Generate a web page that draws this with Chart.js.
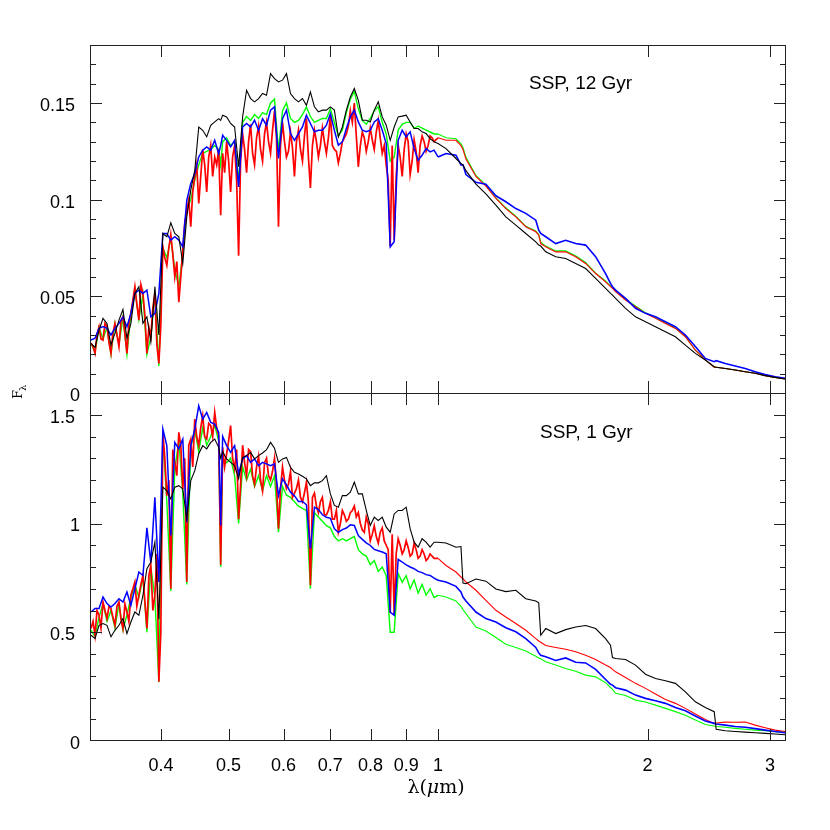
<!DOCTYPE html>
<html>
<head>
<meta charset="utf-8">
<script src="https://cdn.jsdelivr.net/npm/chart.js@4.4.0/dist/chart.umd.min.js"></script>
<style>
  html, body { margin: 0; padding: 0; background: #fff; }
  #spectra { display: block; }
</style>
</head>
<body>
<canvas id="spectra" width="830" height="830"></canvas>
<script>
// wavelength grid in micron, shared by both panels
var lambda = [
  0.3173, 0.3215, 0.3258, 0.3301, 0.3345, 0.3389, 0.3434, 0.3480, 0.3526, 0.3573,
  0.3620, 0.3668, 0.3717, 0.3767, 0.3817, 0.3867, 0.3919, 0.3971, 0.4024, 0.4077,
  0.4131, 0.4186, 0.4242, 0.4298, 0.4355, 0.4413, 0.4472, 0.4531, 0.4591, 0.4652,
  0.4714, 0.4777, 0.4840, 0.4872, 0.4904, 0.4969, 0.5035, 0.5102, 0.5170, 0.5239,
  0.5308, 0.5379, 0.5450, 0.5523, 0.5596, 0.5670, 0.5746, 0.5822, 0.5899, 0.5978,
  0.6057, 0.6138, 0.6219, 0.6302, 0.6386, 0.6470, 0.6556, 0.6644, 0.6732, 0.6821,
  0.6912, 0.7004, 0.7097, 0.7191, 0.7287, 0.7384, 0.7482, 0.7581, 0.7682, 0.7784,
  0.7887, 0.7992, 0.8098, 0.8206, 0.8315, 0.8425, 0.8537, 0.8650, 0.8765, 0.8882,
  0.9000, 0.9119, 0.9240, 0.9363, 0.9487, 0.9613, 0.9741, 0.9870, 1.0000,
  1.0267, 1.0612, 1.0788, 1.0860, 1.0968, 1.1336, 1.1716, 1.2109, 1.2515, 1.2935,
  1.3369, 1.3818, 1.3954, 1.4047, 1.4281, 1.4760, 1.5256, 1.5767, 1.6297, 1.6843,
  1.7408, 1.7693, 1.7810, 1.7992, 1.8596, 1.9220, 1.9864, 2.0531, 2.1219, 2.1931,
  2.2667, 2.3427, 2.4213, 2.4935, 2.5100, 2.5865, 2.6732, 2.7629, 2.8556, 2.9514,
  3.0504, 3.1527
];

// extra optical wavelengths where the red (high resolution) spectrum is sampled too
var lambdaRedFine = [
  0.3194, 0.3236, 0.3279, 0.3323, 0.3367, 0.3411, 0.3457, 0.3503, 0.3549, 0.3596,
  0.3644, 0.3692, 0.3742, 0.3792, 0.3842, 0.3893, 0.3945, 0.3997, 0.4050, 0.4104,
  0.4158, 0.4214, 0.4270, 0.4326, 0.4384, 0.4442, 0.4501, 0.4561, 0.4621, 0.4683,
  0.4745, 0.4808, 0.4936, 0.5002, 0.5068, 0.5136, 0.5204, 0.5273, 0.5343, 0.5414,
  0.5486, 0.5559, 0.5633, 0.5708, 0.5784, 0.5860, 0.5938, 0.6017, 0.6097, 0.6178,
  0.6260, 0.6344, 0.6428, 0.6513, 0.6600, 0.6688, 0.6776, 0.6866, 0.6958, 0.7050,
  0.7144, 0.7239, 0.7335, 0.7433, 0.7531, 0.7631, 0.7733, 0.7835, 0.7939, 0.8045,
  0.8152, 0.8260, 0.8370, 0.8481, 0.8593, 0.8707, 0.8823, 0.8941, 0.9059, 0.9180,
  0.9301, 0.9425, 0.9550, 0.9677, 0.9805, 0.9935
];

// SSP, 12 Gyr
var oldBlack = [
  0.0257, 0.0236, 0.0326, 0.0386, 0.0360, 0.0248, 0.0308, 0.0377, 0.0432, 0.0283,
  0.0360, 0.0515, 0.0550, 0.0360, 0.0394, 0.0265, 0.0550, 0.0300, 0.0825, 0.0808,
  0.0880, 0.0825, 0.0808, 0.0670, 0.0911, 0.1049, 0.1152, 0.1376, 0.1359, 0.1325,
  0.1385, 0.1402, 0.1419, 0.1410, 0.1437, 0.1428, 0.1394, 0.1376, 0.1170, 0.1428,
  0.1566, 0.1523, 0.1506, 0.1523, 0.1549, 0.1540, 0.1652, 0.1626, 0.1609, 0.1618,
  0.1652, 0.1549, 0.1523, 0.1506, 0.1523, 0.1488, 0.1557, 0.1480, 0.1454, 0.1463,
  0.1463, 0.1480, 0.1463, 0.1325, 0.1376, 0.1463, 0.1531, 0.1575, 0.1514, 0.1411,
  0.1411, 0.1402, 0.1463, 0.1506, 0.1428, 0.1385, 0.1307, 0.1376, 0.1428, 0.1432,
  0.1437, 0.1402, 0.1368, 0.1368, 0.1351, 0.1342, 0.1316, 0.1299, 0.1290,
  0.1264, 0.1213, 0.1187, 0.1180, 0.1150, 0.1080, 0.1030, 0.0972, 0.0911, 0.0868,
  0.0825, 0.0782, 0.0765, 0.0760, 0.0730, 0.0705, 0.0696, 0.0670, 0.0644, 0.0593,
  0.0541, 0.0515, 0.0506, 0.0489, 0.0438, 0.0394, 0.0369, 0.0343, 0.0317, 0.0291,
  0.0248, 0.0205, 0.0171, 0.0136, 0.0133, 0.0127, 0.0119, 0.0110, 0.0102, 0.0090,
  0.0081, 0.0072
];
var oldBlue = [
  0.0274, 0.0283, 0.0334, 0.0343, 0.0334, 0.0300, 0.0334, 0.0360, 0.0394, 0.0343,
  0.0412, 0.0515, 0.0532, 0.0515, 0.0532, 0.0394, 0.0412, 0.0515, 0.0825, 0.0825,
  0.0791, 0.0808, 0.0791, 0.0756, 0.0997, 0.1084, 0.1135, 0.1221, 0.1256, 0.1273,
  0.1256, 0.1307, 0.1238, 0.1280, 0.1333, 0.1307, 0.1273, 0.1307, 0.1066, 0.1376,
  0.1394, 0.1376, 0.1411, 0.1359, 0.1419, 0.1385, 0.1463, 0.1480, 0.1213, 0.1419,
  0.1463, 0.1342, 0.1307, 0.1342, 0.1376, 0.1437, 0.1394, 0.1351, 0.1359, 0.1359,
  0.1385, 0.1445, 0.1359, 0.1282, 0.1299, 0.1368, 0.1428, 0.1463, 0.1402, 0.1359,
  0.1351, 0.1359, 0.1402, 0.1419, 0.1359, 0.1290, 0.0756, 0.0782, 0.1307, 0.1359,
  0.1325, 0.1351, 0.1264, 0.1204, 0.1230, 0.1264, 0.1247, 0.1256, 0.1221,
  0.1239, 0.1230, 0.1180, 0.1180, 0.1130, 0.1090, 0.1080, 0.1020, 0.0989, 0.0954,
  0.0929, 0.0894, 0.0842, 0.0825, 0.0808, 0.0773, 0.0790, 0.0773, 0.0765, 0.0705,
  0.0618, 0.0567, 0.0550, 0.0532, 0.0489, 0.0438, 0.0412, 0.0394, 0.0369, 0.0343,
  0.0300, 0.0240, 0.0179, 0.0162, 0.0167, 0.0153, 0.0140, 0.0127, 0.0110, 0.0096,
  0.0084, 0.0076
];
var oldRed = [
  0.0257, 0.0205, 0.0343, 0.0274, 0.0343, 0.0205, 0.0360, 0.0240, 0.0394, 0.0205,
  0.0412, 0.0550, 0.0377, 0.0515, 0.0205, 0.0291, 0.0515, 0.0153, 0.0756, 0.0660,
  0.0820, 0.0600, 0.0470, 0.0740, 0.0940, 0.0860, 0.1120, 0.0980, 0.1260, 0.1040,
  0.1280, 0.1220, 0.1260, 0.0920, 0.1240, 0.1300, 0.1040, 0.1280, 0.0710, 0.1340,
  0.1140, 0.1390, 0.1180, 0.1380, 0.1200, 0.1400, 0.1240, 0.1460, 0.0860, 0.1400,
  0.1220, 0.1350, 0.1120, 0.1360, 0.1200, 0.1420, 0.1060, 0.1360, 0.1220, 0.1370,
  0.1240, 0.1440, 0.1260, 0.1190, 0.1300, 0.1340, 0.1460, 0.1500, 0.1170, 0.1350,
  0.1250, 0.1370, 0.1260, 0.1410, 0.1240, 0.1180, 0.0760, 0.0790, 0.1280, 0.1120,
  0.1340, 0.1130, 0.1310, 0.1140, 0.1330, 0.1250, 0.1330, 0.1300, 0.1320,
  0.1307, 0.1307, 0.1280, 0.1260, 0.1210, 0.1120, 0.1070, 0.1006, 0.0954, 0.0911,
  0.0860, 0.0834, 0.0817, 0.0773, 0.0756, 0.0730, 0.0730, 0.0705, 0.0670, 0.0618,
  0.0575, 0.0550, 0.0541, 0.0524, 0.0481, 0.0446, 0.0412, 0.0386, 0.0360, 0.0334,
  0.0291, 0.0222, 0.0171, 0.0133, 0.0133, 0.0127, 0.0119, 0.0110, 0.0102, 0.0090,
  0.0081, 0.0072
];
var oldRedFine = [
  0.024, 0.030, 0.028, 0.036, 0.026, 0.031, 0.030, 0.037, 0.031, 0.036,
  0.048, 0.046, 0.056, 0.040, 0.034, 0.044, 0.025, 0.035, 0.070, 0.075,
  0.072, 0.068, 0.060, 0.088, 0.100, 0.104, 0.118, 0.112, 0.118, 0.122,
  0.112, 0.118, 0.114, 0.120, 0.122, 0.110, 0.120, 0.126, 0.130, 0.124,
  0.132, 0.126, 0.134, 0.130, 0.136, 0.132, 0.128, 0.130, 0.125, 0.127,
  0.130, 0.126, 0.133, 0.122, 0.128, 0.130, 0.128, 0.130, 0.132, 0.128,
  0.125, 0.124, 0.132, 0.138, 0.140, 0.133, 0.128, 0.132, 0.130, 0.131,
  0.135, 0.132, 0.128, 0.110, 0.128, 0.112, 0.122, 0.126, 0.130, 0.120,
  0.125, 0.128, 0.130, 0.128, 0.132, 0.131
];
var oldGreen = [
  0.0255, 0.0210, 0.0340, 0.0280, 0.0340, 0.0200, 0.0360, 0.0250, 0.0390, 0.0200,
  0.0410, 0.0540, 0.0380, 0.0510, 0.0200, 0.0290, 0.0510, 0.0140, 0.0750, 0.0700,
  0.0800, 0.0640, 0.0550, 0.0720, 0.0950, 0.1000, 0.1100, 0.1180, 0.1240, 0.1250,
  0.1260, 0.1280, 0.1260, 0.1180, 0.1300, 0.1320, 0.1280, 0.1300, 0.1100, 0.1400,
  0.1430, 0.1410, 0.1440, 0.1420, 0.1450, 0.1440, 0.1500, 0.1520, 0.1250, 0.1460,
  0.1500, 0.1420, 0.1400, 0.1410, 0.1440, 0.1480, 0.1430, 0.1400, 0.1410, 0.1420,
  0.1420, 0.1470, 0.1400, 0.1330, 0.1360, 0.1450, 0.1520, 0.1560, 0.1470, 0.1410,
  0.1390, 0.1420, 0.1460, 0.1480, 0.1400, 0.1340, 0.1200, 0.1220, 0.1360, 0.1390,
  0.1400, 0.1400, 0.1370, 0.1380, 0.1370, 0.1360, 0.1350, 0.1340, 0.1340,
  0.1320, 0.1315, 0.1290, 0.1270, 0.1220, 0.1125, 0.1075, 0.1010, 0.0958, 0.0915,
  0.0862, 0.0838, 0.0820, 0.0780, 0.0760, 0.0735, 0.0735, 0.0710, 0.0675, 0.0620,
  0.0580, 0.0553, 0.0545, 0.0528, 0.0485, 0.0450, 0.0415, 0.0390, 0.0362, 0.0336,
  0.0292, 0.0222, 0.0171, 0.0134, 0.0133, 0.0127, 0.0119, 0.0110, 0.0102, 0.0090,
  0.0081, 0.0072
];

// SSP, 1 Gyr
var youngBlack = [
  0.486, 0.471, 0.532, 0.540, 0.532, 0.479, 0.509, 0.532, 0.563, 0.494,
  0.547, 0.593, 0.578, 0.670, 0.792, 0.823, 0.914, 0.560, 1.167, 1.151,
  1.113, 1.167, 1.174, 1.159, 1.021, 1.197, 1.243, 1.321, 1.358, 1.343,
  1.373, 1.388, 1.350, 1.300, 1.330, 1.297, 1.281, 1.266, 1.205, 1.304,
  1.312, 1.327, 1.297, 1.312, 1.324, 1.339, 1.373, 1.346, 1.281, 1.297,
  1.304, 1.258, 1.235, 1.228, 1.217, 1.205, 1.174, 1.187, 1.187, 1.197,
  1.220, 1.136, 1.083, 1.075, 1.128, 1.128, 1.144, 1.190, 1.136, 1.136,
  1.060, 0.991, 1.029, 1.014, 1.029, 0.983, 0.960, 1.044, 1.060, 1.060,
  1.075, 0.976, 0.914, 0.891, 0.930, 0.914, 0.891, 0.914, 0.914,
  0.910, 0.891, 0.894, 0.726, 0.723, 0.745, 0.735, 0.699, 0.687, 0.693,
  0.654, 0.644, 0.635, 0.486, 0.517, 0.494, 0.512, 0.524, 0.531, 0.517,
  0.471, 0.440, 0.384, 0.379, 0.375, 0.349, 0.307, 0.287, 0.277, 0.265,
  0.226, 0.180, 0.154, 0.135, 0.054, 0.047, 0.044, 0.041, 0.038, 0.035,
  0.032, 0.029
];
var youngBlue = [
  0.593, 0.609, 0.609, 0.662, 0.632, 0.616, 0.632, 0.654, 0.639, 0.685,
  0.624, 0.700, 0.777, 0.761, 0.980, 0.820, 1.120, 0.731, 1.434, 1.358,
  0.945, 1.373, 1.343, 1.388, 1.006, 1.358, 1.434, 1.541, 1.480, 1.511,
  1.465, 1.457, 1.419, 0.991, 1.400, 1.358, 1.327, 1.358, 1.228, 1.297,
  1.312, 1.281, 1.297, 1.266, 1.281, 1.274, 1.266, 1.274, 1.128, 1.205,
  1.177, 1.144, 1.128, 1.101, 1.101, 1.086, 0.884, 1.075, 1.064, 1.040,
  1.029, 1.024, 0.976, 0.960, 0.972, 0.979, 0.994, 0.991, 0.945, 0.927,
  0.911, 0.899, 0.881, 0.875, 0.869, 0.861, 0.593, 0.578, 0.835, 0.823,
  0.810, 0.800, 0.792, 0.780, 0.774, 0.765, 0.761, 0.749, 0.739,
  0.731, 0.711, 0.685, 0.662, 0.644, 0.593, 0.563, 0.547, 0.521, 0.502,
  0.471, 0.430, 0.405, 0.394, 0.387, 0.370, 0.382, 0.362, 0.359, 0.329,
  0.283, 0.261, 0.257, 0.245, 0.234, 0.211, 0.196, 0.185, 0.173, 0.154,
  0.139, 0.115, 0.092, 0.081, 0.078, 0.073, 0.067, 0.063, 0.057, 0.050,
  0.044, 0.038
];
var youngRed = [
  0.517, 0.486, 0.578, 0.639, 0.563, 0.609, 0.532, 0.639, 0.517, 0.593,
  0.670, 0.731, 0.670, 0.761, 0.517, 0.807, 0.670, 0.272, 1.419, 1.128,
  0.700, 1.281, 1.419, 1.159, 0.731, 1.388, 1.480, 1.358, 1.495, 1.388,
  1.450, 1.511, 1.404, 0.810, 1.350, 1.320, 1.450, 1.250, 1.020, 1.360,
  1.220, 1.330, 1.180, 1.310, 1.150, 1.300, 1.200, 1.300, 0.976, 1.260,
  1.160, 1.240, 1.140, 1.200, 1.100, 1.190, 0.716, 1.140, 1.050, 1.120,
  1.040, 1.100, 1.020, 0.960, 1.060, 1.010, 1.050, 1.080, 1.050, 0.970,
  1.030, 0.920, 0.990, 0.910, 0.980, 0.900, 0.590, 0.580, 0.930, 0.860,
  0.920, 0.850, 0.910, 0.840, 0.880, 0.830, 0.860, 0.840, 0.840,
  0.807, 0.777, 0.754, 0.746, 0.731, 0.693, 0.647, 0.601, 0.570, 0.540,
  0.509, 0.471, 0.460, 0.454, 0.439, 0.430, 0.422, 0.410, 0.394, 0.375,
  0.349, 0.338, 0.329, 0.318, 0.292, 0.265, 0.242, 0.216, 0.191, 0.173,
  0.150, 0.124, 0.099, 0.081, 0.083, 0.087, 0.086, 0.087, 0.073, 0.061,
  0.050, 0.044
];
var youngRedFine = [
  0.55, 0.60, 0.52, 0.60, 0.62, 0.57, 0.62, 0.56, 0.63, 0.55,
  0.70, 0.62, 0.72, 0.64, 0.76, 0.60, 0.86, 0.50, 1.30, 1.20,
  1.34, 1.22, 1.36, 1.30, 1.36, 1.26, 1.40, 1.44, 1.40, 1.46,
  1.40, 1.44, 1.26, 1.38, 1.30, 1.34, 1.18, 1.28, 1.34, 1.22,
  1.26, 1.20, 1.28, 1.22, 1.24, 1.18, 1.16, 1.20, 1.18, 1.12,
  1.16, 1.12, 1.14, 1.10, 1.12, 1.08, 1.10, 1.04, 1.06, 1.02,
  1.06, 1.00, 1.04, 1.02, 1.06, 1.03, 1.00, 0.96, 1.00, 0.95,
  0.94, 0.96, 0.92, 0.88, 0.95, 0.86, 0.90, 0.88, 0.89, 0.86,
  0.88, 0.85, 0.86, 0.84, 0.85, 0.84
];
var youngGreen = [
  0.510, 0.480, 0.570, 0.630, 0.550, 0.600, 0.520, 0.630, 0.510, 0.580,
  0.660, 0.720, 0.660, 0.750, 0.500, 0.800, 0.660, 0.270, 1.400, 1.100,
  0.690, 1.250, 1.380, 1.140, 0.720, 1.350, 1.430, 1.330, 1.440, 1.360,
  1.400, 1.450, 1.380, 0.800, 1.300, 1.280, 1.300, 1.220, 1.000, 1.260,
  1.200, 1.250, 1.170, 1.220, 1.150, 1.220, 1.170, 1.220, 0.960, 1.170,
  1.130, 1.120, 1.100, 1.080, 1.070, 1.060, 0.700, 1.050, 1.030, 1.010,
  0.990, 0.980, 0.940, 0.920, 0.930, 0.920, 0.930, 0.940, 0.880, 0.860,
  0.850, 0.810, 0.830, 0.780, 0.800, 0.760, 0.500, 0.500, 0.770, 0.730,
  0.760, 0.700, 0.740, 0.680, 0.720, 0.670, 0.700, 0.660, 0.670,
  0.662, 0.644, 0.619, 0.604, 0.586, 0.524, 0.506, 0.476, 0.445, 0.430,
  0.414, 0.390, 0.382, 0.378, 0.364, 0.349, 0.333, 0.321, 0.303, 0.295,
  0.268, 0.246, 0.237, 0.219, 0.209, 0.188, 0.179, 0.165, 0.150, 0.135,
  0.118, 0.096, 0.076, 0.069, 0.067, 0.063, 0.058, 0.054, 0.050, 0.047,
  0.043, 0.040
];

var xTicks = [0.4, 0.5, 0.6, 0.7, 0.8, 0.9, 1, 2, 3];
var topTicks = [0, 0.05, 0.1, 0.15];
var bottomTicks = [0, 0.5, 1, 1.5];

function pts(xs, ys) {
  return xs.map(function (x, i) { return { x: x, y: ys[i] }; });
}

// red is sampled on both grids; merge them in wavelength order
function redPts(ys, fine) {
  return pts(lambda, ys).concat(pts(lambdaRedFine, fine))
    .sort(function (a, b) { return a.x - b.x; });
}

// optical part drawn heavier (dense lines), infrared part thin
function series(data, color, axis, optW, irW) {
  return {
    data: data,
    yAxisID: axis,
    borderColor: color,
    borderWidth: optW,
    segment: {
      borderWidth: function (ctx) { return ctx.p0.parsed.x < 1 ? optW : irW; }
    },
    pointRadius: 0,
    tension: 0,
    fill: false
  };
}

var sans = '"Liberation Sans", Arial, Helvetica, sans-serif';
var serif = '"DejaVu Serif", "Liberation Serif", serif';

var frame = {
  id: 'frame',
  afterDraw: function (chart) {
    var c = chart.ctx, a = chart.chartArea;
    var sx = chart.scales.x, st = chart.scales.yTop, sb = chart.scales.yBot;
    var mid = Math.round(st.getPixelForValue(0));
    var L = a.left, R = a.right, T = a.top, B = a.bottom;

    function seg(x1, y1, x2, y2) {
      c.beginPath(); c.moveTo(x1, y1); c.lineTo(x2, y2); c.stroke();
    }

    c.save();
    c.strokeStyle = '#222';
    c.lineWidth = 1;
    c.strokeRect(L + 0.5, T + 0.5, R - L - 1, B - T - 1);
    seg(L, mid + 0.5, R, mid + 0.5);

    // x ticks on every horizontal edge, pointing inward
    xTicks.forEach(function (v) {
      var px = Math.round(sx.getPixelForValue(v)) + 0.5;
      seg(px, T, px, T + 12);
      seg(px, mid, px, mid - 12);
      seg(px, mid, px, mid + 12);
      seg(px, B, px, B - 12);
    });

    function yTicks(scale, step, n, majors) {
      for (var k = 1; k < n; k++) {
        var v = +(k * step).toFixed(4);
        var py = Math.round(scale.getPixelForValue(v)) + 0.5;
        var len = majors.indexOf(v) >= 0 ? 12 : 6;
        seg(L, py, L + len, py);
        seg(R, py, R - len, py);
      }
    }
    yTicks(st, 0.01, 18, topTicks);
    yTicks(sb, 0.1, 16, bottomTicks);

    c.fillStyle = '#000';
    c.font = '18px ' + sans;
    c.textBaseline = 'middle';
    c.textAlign = 'right';
    function yLabels(scale, ticks) {
      ticks.forEach(function (v) {
        var s = String(v);
        var edge = s.indexOf('.') >= 0 ? 75 : 80;
        c.fillText(s, edge, scale.getPixelForValue(v) + 3);
      });
    }
    yLabels(st, topTicks);
    yLabels(sb, bottomTicks);

    c.textAlign = 'center';
    xTicks.forEach(function (v) {
      c.fillText(String(v), sx.getPixelForValue(v), B + 25);
    });

    // panel notes
    c.font = '19px ' + sans;
    c.textAlign = 'left';
    c.textBaseline = 'alphabetic';
    c.fillText('SSP, 12 Gyr', 529, 89);
    c.fillText('SSP, 1 Gyr', 540, 438);

    // x title: lambda(mu m)
    c.font = '19px ' + serif;
    var p1 = 'λ(', p3 = 'm)';
    var w1 = c.measureText(p1).width, w3 = c.measureText(p3).width;
    c.font = 'italic 19px ' + serif;
    var w2 = c.measureText('μ').width;
    var x0 = 436 - (w1 + w2 + w3) / 2;
    c.font = '19px ' + serif;
    c.fillText(p1, x0, 793);
    c.font = 'italic 19px ' + serif;
    c.fillText('μ', x0 + w1, 793);
    c.font = '19px ' + serif;
    c.fillText(p3, x0 + w1 + w2, 793);

    // y title: F_lambda, rotated
    c.translate(22, 393);
    c.rotate(-Math.PI / 2);
    c.font = '13px ' + serif;
    c.fillText('F', -6, 0);
    c.font = '10px ' + serif;
    c.fillText('λ', 2, 4);
    c.restore();
  }
};

var chart = new Chart(document.getElementById('spectra'), {
  type: 'line',
  data: {
    datasets: [
      series(pts(lambda, oldBlack), '#000000', 'yTop', 1.1, 1.1),
      series(pts(lambda, oldBlue), '#0000ff', 'yTop', 1.5, 1.6),
      series(redPts(oldRed, oldRedFine), '#ff0000', 'yTop', 1.7, 1.1),
      series(pts(lambda, oldGreen), '#00ff00', 'yTop', 1.4, 1.1),
      series(pts(lambda, youngBlack), '#000000', 'yBot', 1.1, 1.1),
      series(pts(lambda, youngBlue), '#0000ff', 'yBot', 1.5, 1.6),
      series(redPts(youngRed, youngRedFine), '#ff0000', 'yBot', 1.7, 1.1),
      series(pts(lambda, youngGreen), '#00ff00', 'yBot', 1.4, 1.1)
    ]
  },
  options: {
    responsive: false,
    devicePixelRatio: 1,
    animation: false,
    layout: { padding: { left: 90, right: 44, top: 45, bottom: 89 } },
    plugins: { legend: { display: false }, tooltip: { enabled: false } },
    scales: {
      x: { type: 'logarithmic', bounds: 'data', min: 0.3162, max: 3.162, display: false },
      // upper panel uses the top half: 0 sits on the divider
      yTop: { type: 'linear', bounds: 'data', min: -0.18, max: 0.18, display: false },
      // lower panel: 0..1.6 fills the bottom half
      yBot: { type: 'linear', bounds: 'data', min: 0, max: 3.2, display: false }
    }
  },
  plugins: [frame]
});
</script>
</body>
</html>
